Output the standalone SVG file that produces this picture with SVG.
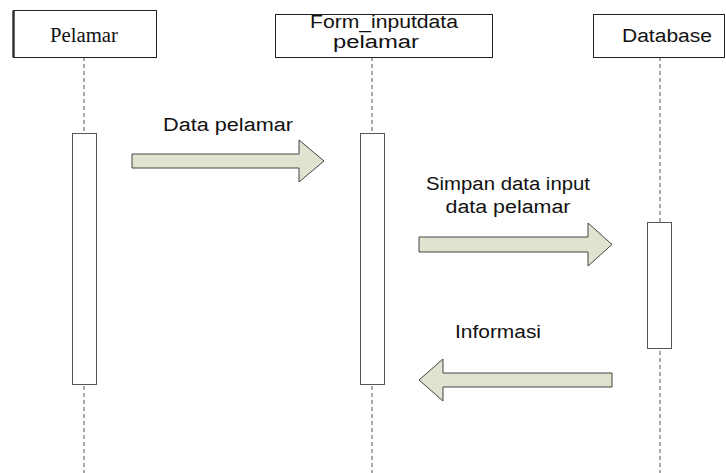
<svg xmlns="http://www.w3.org/2000/svg" width="726" height="473" viewBox="0 0 726 473">
<style>
.box{fill:#fff;stroke:#222;stroke-width:1}
.life{stroke:#555;stroke-width:1;stroke-dasharray:4,3;fill:none}
.act{fill:#fff;stroke:#555;stroke-width:1}
.arr{fill:#dfe3cf;stroke:#444;stroke-width:1}
.sans{font-family:"Liberation Sans",Arial,sans-serif;font-size:18px;fill:#111}
.serif{font-family:"Liberation Serif","Times New Roman",serif;font-size:20px;fill:#111}
</style>
<rect width="726" height="473" fill="#fff"/>
<g id="lifelines">
<line class="life" x1="84" y1="57" x2="84" y2="473"/>
<line class="life" x1="372" y1="57" x2="372" y2="473"/>
<line class="life" x1="660" y1="57" x2="660" y2="473"/>
</g>
<g id="pelamar">
<rect class="box" x="13.5" y="10.5" width="143" height="47"/>
<line x1="13.5" y1="10.5" x2="13.5" y2="57.5" stroke="#333" stroke-width="2.5"/>
<text class="serif" x="84" y="42" text-anchor="middle" textLength="68" lengthAdjust="spacingAndGlyphs">Pelamar</text>
<rect class="act" x="72.5" y="133.5" width="24" height="251"/>
</g>
<g id="form">
<rect class="box" x="275.5" y="14.5" width="217" height="43"/>
<text class="sans" x="384" y="28" text-anchor="middle" textLength="148" lengthAdjust="spacingAndGlyphs">Form_inputdata</text>
<text class="sans" x="376" y="48" text-anchor="middle" textLength="86" lengthAdjust="spacingAndGlyphs">pelamar</text>
<rect class="act" x="360.5" y="133.5" width="24" height="251"/>
</g>
<g id="database">
<rect class="box" x="593.5" y="14.5" width="131" height="43"/>
<text class="sans" x="667" y="42" text-anchor="middle" textLength="90" lengthAdjust="spacingAndGlyphs">Database</text>
<rect class="act" x="647.5" y="222.5" width="24" height="126"/>
</g>
<g id="connectors">
<polygon class="arr" points="132,154 299,154 299,140 324,161 299,182 299,168 132,168"/>
<text class="sans" x="228" y="131" text-anchor="middle" textLength="130" lengthAdjust="spacingAndGlyphs">Data pelamar</text>
<polygon class="arr" points="419,237 588,237 588,223 612,244.5 588,266 588,252 419,252"/>
<text class="sans" x="508" y="190" text-anchor="middle" textLength="164" lengthAdjust="spacingAndGlyphs">Simpan data input</text>
<text class="sans" x="508" y="213" text-anchor="middle" textLength="125" lengthAdjust="spacingAndGlyphs">data pelamar</text>
<polygon class="arr" points="612,373 443,373 443,359 419,380 443,401 443,387 612,387"/>
<text class="sans" x="498" y="338" text-anchor="middle" textLength="86" lengthAdjust="spacingAndGlyphs">Informasi</text>
</g>
</svg>
